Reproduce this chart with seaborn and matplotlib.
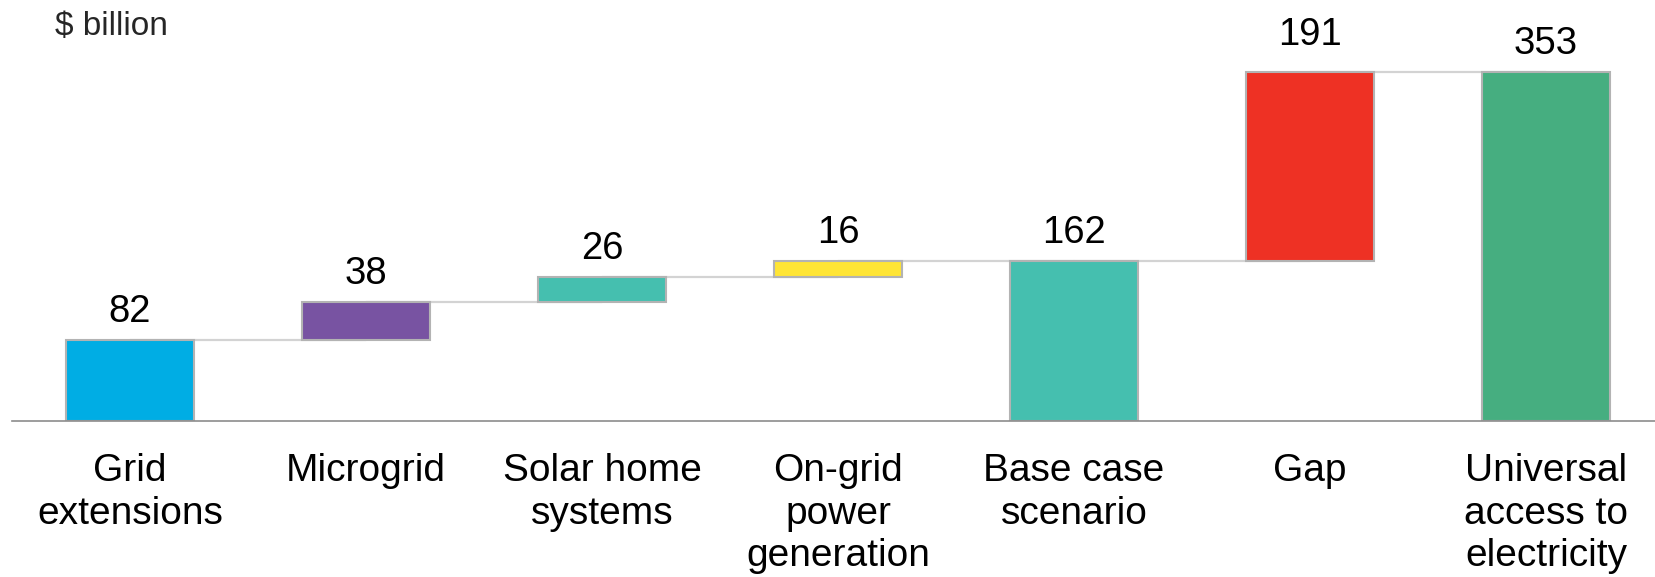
import matplotlib
matplotlib.use("Agg")
import matplotlib.pyplot as plt
import numpy as np
import seaborn as sns

# Data
categories = ["Grid\nextensions", "Microgrid", "Solar home\nsystems", "On-grid\npower\ngeneration",
              "Base case\nscenario", "Gap", "Universal\naccess to\nelectricity"]
values = [82, 38, 26, 16, 162, 191, 353]
kinds = ["step", "step", "step", "step", "total", "step", "total"]
colors = ["#00ade4", "#7853a2", "#45bfaf", "#ffe535", "#45bfaf", "#ee3124", "#46ae80"]

# Bar bottoms for the waterfall
bottoms = []
level = 0
for v, k in zip(values, kinds):
    if k == "total":
        bottoms.append(0)
        level = v
    else:
        bottoms.append(level)
        level += v
tops = [b + v for b, v in zip(bottoms, values)]

sns.set_style("white")
plt.rcParams["font.family"] = ["Liberation Sans", "DejaVu Sans"]

fig = plt.figure(figsize=(16.55, 5.77), dpi=100)
ax = fig.add_axes([12 / 1655, 156 / 577, 1652 / 1655, 395.6 / 577])

sns.barplot(x=categories, y=values, hue=categories, palette=colors, legend=False,
            width=0.54, edgecolor="#b3b3b3", linewidth=1.5, saturation=1, ax=ax, zorder=2)

# Lift each bar to its waterfall bottom
for p in ax.patches:
    i = int(round(p.get_x() + p.get_width() / 2))
    p.set_y(bottoms[i])

# Connector lines between bars
for i in range(len(values) - 1):
    ax.plot([i, i + 1], [tops[i], tops[i]], color="#d3d3d3", lw=1.6, zorder=1)

# Value labels
for i, (t, v) in enumerate(zip(tops, values)):
    off = 19.5 if categories[i] == "Gap" else 13
    ax.annotate(str(v), xy=(i, t), xytext=(0, off), textcoords="offset points",
                ha="center", va="baseline", fontsize=27.5, color="black")

ax.set_xlim(-0.5, len(values) - 0.5)
ax.set_ylim(0, 400)
ax.set_yticks([])
ax.set_xlabel("")
ax.set_ylabel("")
for s in ["top", "right", "left"]:
    ax.spines[s].set_visible(False)
ax.spines["bottom"].set_color("#8c8c8c")
ax.spines["bottom"].set_linewidth(1.2)

ax.set_xticks(np.arange(len(values)))
ax.set_xticklabels(categories, fontsize=28, linespacing=1.24)
ax.tick_params(axis="x", which="major", length=0, pad=23, colors="black")
ax.set_xticks(np.arange(-0.5, len(values)), minor=True)
ax.tick_params(axis="x", which="minor", length=8, width=1, color="#8c8c8c")

fig.text(55 / 1655, 1 - 27 / 577, "$ billion", fontsize=24, va="center", ha="left")

fig.savefig("out.png", dpi=100)
